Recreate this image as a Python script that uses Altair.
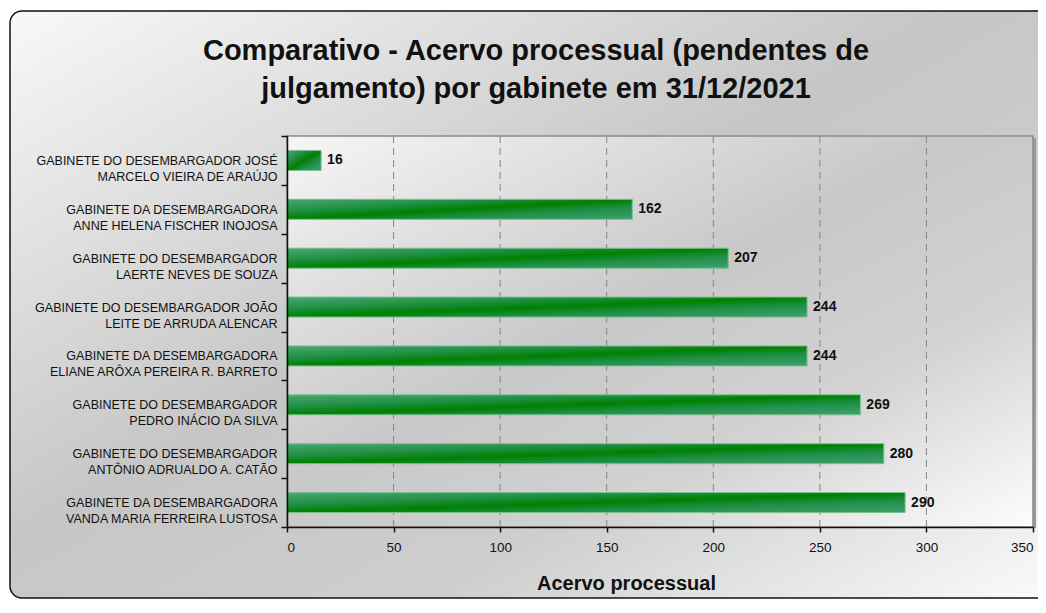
import altair as alt
import pandas as pd

# ---- data ----
title_lines = [
    "Comparativo - Acervo processual (pendentes de",
    "julgamento) por gabinete em 31/12/2021",
]
line1 = [
    "GABINETE DO DESEMBARGADOR JOSÉ",
    "GABINETE DA DESEMBARGADORA",
    "GABINETE DO DESEMBARGADOR",
    "GABINETE DO DESEMBARGADOR JOÃO",
    "GABINETE DA DESEMBARGADORA",
    "GABINETE DO DESEMBARGADOR",
    "GABINETE DO DESEMBARGADOR",
    "GABINETE DA DESEMBARGADORA",
]
line2 = [
    "MARCELO VIEIRA DE ARAÚJO",
    "ANNE HELENA FISCHER INOJOSA",
    "LAERTE NEVES DE SOUZA",
    "LEITE DE ARRUDA ALENCAR",
    "ELIANE ARÔXA PEREIRA R. BARRETO",
    "PEDRO INÁCIO DA SILVA",
    "ANTÔNIO ADRUALDO A. CATÃO",
    "VANDA MARIA FERREIRA LUSTOSA",
]
values = [16, 162, 207, 244, 244, 269, 280, 290]
axis_ticks = [0, 50, 100, 150, 200, 250, 300, 350]
grid_ticks = [50, 100, 150, 200, 250, 300]

labels = [f"{a}|{b}" for a, b in zip(line1, line2)]
df = pd.DataFrame({"label": labels, "value": values})
grid_df = pd.DataFrame({"value": grid_ticks})
one = pd.DataFrame({"k": [0]})

FONT = "Liberation Sans"
W, H = 746, 391


def grad(stops, x1=0, y1=0, x2=1, y2=1):
    return alt.LinearGradient(
        gradient="linear",
        stops=[alt.GradientStop(offset=o, color=c) for o, c in stops],
        x1=x1, y1=y1, x2=x2, y2=y2,
    )


outer_grad = grad([(0, "#f8f8f8"), (0.45, "#c6c6c6"), (0.7, "#cecece"), (1, "#fbfbfb")])
plot_grad = grad([(0, "#f6f6f6"), (0.45, "#c8c8c8"), (0.7, "#d2d2d2"), (1, "#fdfdfd")])
bar_grad = grad([(0, "#4aa872"), (0.3, "#1f8f42"), (0.5, "#008000"), (0.7, "#1f8f48"), (1, "#3fa06c")])

x_scale = alt.Scale(domain=[0, 350], nice=False, zero=True)
y_scale = alt.Scale(domain=labels, paddingInner=0, paddingOuter=0)

x_axis = alt.Axis(
    title="Acervo processual",
    titleFont=FONT,
    titleFontSize=20,
    titleFontWeight="bold",
    titleColor="#111111",
    titleX=339,
    titleY=62,
    titleBaseline="alphabetic",
    values=axis_ticks,
    labelFont=FONT,
    labelFontSize=13.5,
    labelColor="#111111",
    labelPadding=8,
    tickSize=5,
    tickColor="#111111",
    tickWidth=1.5,
    domainColor="#111111",
    domainWidth=1.5,
    grid=False,
    zindex=2,
)
y_axis = alt.Axis(
    title=None,
    labelExpr="split(datum.label, '|')",
    labelFont=FONT,
    labelFontSize=12.5,
    labelColor="#111111",
    labelLineHeight=16,
    labelPadding=4,
    labelLimit=300,
    tickBand="extent",
    tickSize=6,
    tickColor="#111111",
    tickWidth=1.5,
    domainColor="#111111",
    domainWidth=1.5,
    grid=False,
    zindex=2,
)

outer = alt.Chart(one).mark_rect(
    fill=outer_grad, stroke="#111111", strokeWidth=1.5, cornerRadius=12, clip=False
).encode(x=alt.value(-277), x2=alt.value(770), y=alt.value(-125), y2=alt.value(462))

shadow = alt.Chart(one).mark_rect(fill="#9a9a9a", clip=False).encode(
    x=alt.value(2), x2=alt.value(W + 3), y=alt.value(2), y2=alt.value(H + 1)
)

plot_bg = alt.Chart(one).mark_rect(
    fill=plot_grad, stroke="#8a8a8a", strokeWidth=1.5, clip=False
).encode(x=alt.value(0), x2=alt.value(W), y=alt.value(0), y2=alt.value(H))

title1 = alt.Chart(one).mark_text(
    text=title_lines[0], font=FONT, fontSize=29, fontWeight="bold", color="#111111",
    align="center", baseline="alphabetic", clip=False,
).encode(x=alt.value(249), y=alt.value(-76))
title2 = alt.Chart(one).mark_text(
    text=title_lines[1], font=FONT, fontSize=29, fontWeight="bold", color="#111111",
    align="center", baseline="alphabetic", clip=False,
).encode(x=alt.value(249), y=alt.value(-38))

grid = alt.Chart(grid_df).mark_rule(color="#858585", strokeDash=[7, 5], strokeWidth=1).encode(
    x=alt.X("value:Q", scale=x_scale, axis=x_axis)
)

bars = alt.Chart(df).mark_bar(
    size=20, fill=bar_grad, stroke="#79c08f", strokeWidth=1
).encode(
    y=alt.Y("label:N", sort=labels, scale=y_scale, axis=y_axis),
    x=alt.X("value:Q", scale=x_scale, axis=x_axis),
)

text = alt.Chart(df).mark_text(
    align="left", dx=6, font=FONT, fontSize=14, fontWeight="bold", color="#111111"
).encode(
    y=alt.Y("label:N", sort=labels, scale=y_scale, axis=y_axis),
    x=alt.X("value:Q", scale=x_scale, axis=x_axis),
    text=alt.Text("value:Q"),
)

chart = alt.layer(outer, shadow, plot_bg, title1, title2, grid, bars, text).properties(
    width=W,
    height=H,
    autosize="none",
    padding={"left": 279, "top": 128, "right": 5, "bottom": 72},
).configure(background="white").configure_view(strokeWidth=0)

chart.save("out.html", embed_options={"renderer": "svg", "actions": False})
